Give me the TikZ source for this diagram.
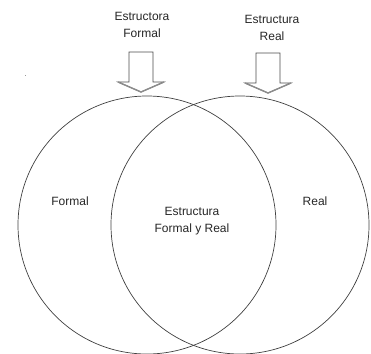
\documentclass[tikz,border=0pt]{standalone}
\usepackage{fontspec}
\setmainfont{Liberation Sans}
\begin{document}
\begin{tikzpicture}[x=1pt,y=-1pt,
  ring/.style={circle, draw=black!75, line width=0.7pt, minimum size=258pt, inner sep=0pt},
  lbl/.style={font=\fontsize{12}{17}\selectfont, text=black!85, align=center, inner sep=0pt},
  downarrow/.style={draw=black!70, line width=0.8pt, fill=white, line join=miter}
]
\useasboundingbox (0,0) rectangle (371,353);

% two overlapping sets
\node[ring] (formal) at (147,225) {};
\node[ring] (real)   at (240,225) {};

% region labels
\node[lbl] (lformal) at (70,201)  {Formal};
\node[lbl] (lreal)   at (315,201) {Real};
\node[lbl] (lboth)   at (192,221) {Estructura\\Formal y Real};

% headings above the sets
\node[lbl] (hformal) at (142,25) {Estructora\\Formal};
\node[lbl] (hreal)   at (272,28) {Estructura\\Real};

% block arrows pointing into each set
\coordinate (tipf) at (141,92);
\coordinate (tipr) at (268,93);
\foreach \t in {tipf,tipr}{
  \draw[downarrow] ([xshift=-12pt,yshift=40pt]\t) -- ([xshift=12pt,yshift=40pt]\t)
    -- ([xshift=12pt,yshift=10pt]\t) -- ([xshift=23pt,yshift=10pt]\t)
    -- (\t) -- ([xshift=-23pt,yshift=10pt]\t) -- ([xshift=-12pt,yshift=10pt]\t) -- cycle;
  \draw[black!45, line width=1.4pt] ([xshift=-23pt,yshift=10pt]\t) -- (\t) -- ([xshift=23pt,yshift=10pt]\t);
}

% small speck at the upper left
\fill[black!40] (24.5,74.5) rectangle (26,76);
\end{tikzpicture}
\end{document}
